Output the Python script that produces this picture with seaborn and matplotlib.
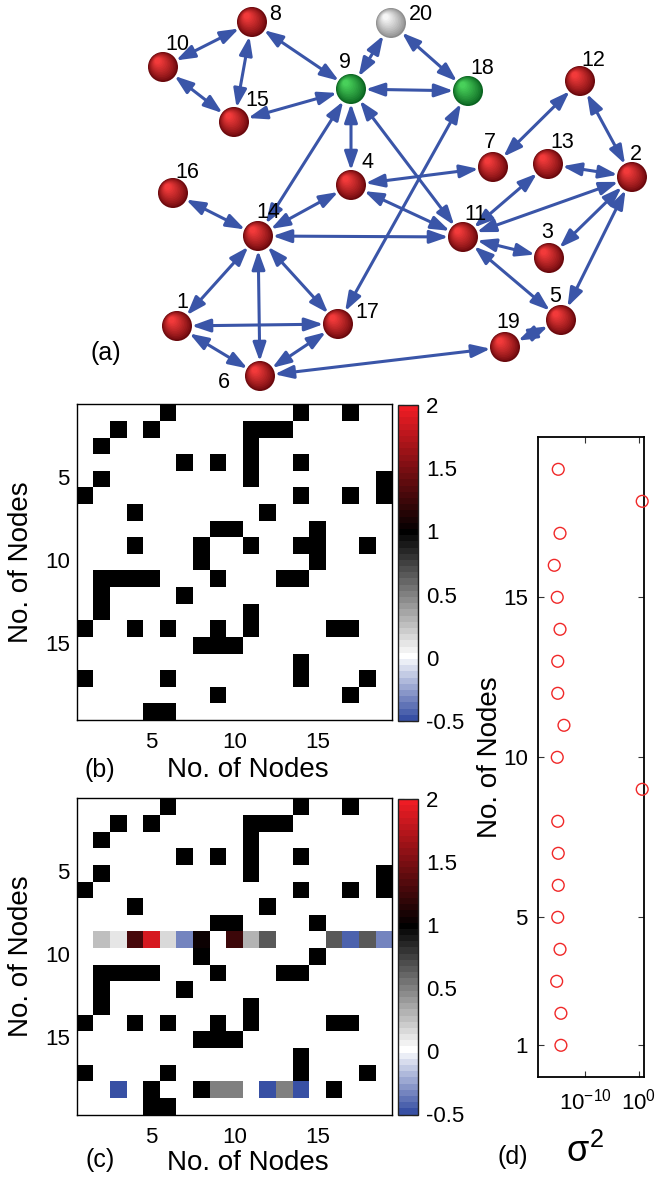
import numpy as np
import seaborn as sns
import matplotlib.pyplot as plt
from matplotlib.colors import LinearSegmentedColormap, to_rgb
from matplotlib.patches import Circle, FancyArrowPatch
from matplotlib.ticker import NullLocator

# --- network (a): node layout as drawn in the picture (pixel coords) ---
node_ids = list(range(1, 21))
node_x = [177, 632, 549, 351, 561, 260, 493, 252, 351, 163, 463, 580, 548, 258, 234, 173, 338, 468, 505, 391]
node_y = [326, 177, 258, 185, 320, 376, 167, 22, 89, 67, 237, 81, 164, 236, 122, 193, 324, 91, 347, 23]
node_kind = ['r'] * 8 + ['g'] + ['r'] * 8 + ['g', 'r', 'w']
edges = [(1, 6), (1, 14), (1, 17), (2, 3), (2, 5), (2, 11), (2, 12), (2, 13), (3, 11),
         (4, 7), (4, 9), (4, 11), (4, 14), (5, 11), (5, 19), (6, 14), (6, 17), (6, 19),
         (7, 12), (8, 9), (8, 10), (8, 15), (9, 11), (9, 14), (9, 15), (9, 18), (10, 15),
         (11, 13), (11, 14), (14, 16), (14, 17), (17, 18), (9, 20), (18, 20)]

# --- reconstruction (c): estimated rows for nodes 9 and 18 ---
row9_est = [0, 0.25, 0.09, 1.31, 1.88, 0.15, -0.34, 1.05, 0, 1.25, 0.31, 0.655, 0, 0, 0, 0.66, -0.42, 0.67, -0.34]
row18_est = [0, 0, -0.5, 0, 1, 0, 0, 1, 0.5, 0.5, 0, -0.5, 0.5, -0.5, 0, 1, 0, 0, 0]

# --- (d): variance per node ---
d_nodes = list(range(1, 20))
sigma2 = [2.5e-15, 2.5e-15, 4.0e-16, 1.7e-15, 6.3e-16, 7.9e-16, 7.9e-16, 6.3e-16, 4.6, 5.1e-16,
          9.3e-15, 6.3e-16, 6.3e-16, 1.7e-15, 5.1e-16, 1.4e-16, 1.7e-15, 4.6, 7.9e-16]

cbar_ticks = [-0.5, 0, 0.5, 1, 1.5, 2]
cbar_labels = ['-0.5', '0', '0.5', '1', '1.5', '2']

sns.set_theme(style='white')
plt.rcParams['font.family'] = ['Liberation Sans', 'DejaVu Sans']
plt.rcParams['axes.unicode_minus'] = False
plt.rcParams['mathtext.fontset'] = 'custom'
plt.rcParams['mathtext.rm'] = 'Liberation Sans'
plt.rcParams['mathtext.it'] = 'Liberation Sans'
for key in ['text.color', 'axes.labelcolor', 'xtick.color', 'ytick.color']:
    plt.rcParams[key] = 'black'

W, H = 656, 1180
fig = plt.figure(figsize=(W / 100, H / 100), dpi=100)


def box(l, t, r, b):
    return [l / W, 1 - b / H, (r - l) / W, (b - t) / H]


def ftext(x, y, s, **kw):
    fig.text(x / W, 1 - y / H, s, ha='center', va='center', **kw)


# ---------------- (a) network ----------------
ax_a = fig.add_axes(box(0, 0, W, 395))
ax_a.set_xlim(0, W)
ax_a.set_ylim(395, 0)
ax_a.axis('off')

edge_color = '#3a55a8'
for i, j in edges:
    arr = FancyArrowPatch((node_x[i - 1], node_y[i - 1]), (node_x[j - 1], node_y[j - 1]),
                          arrowstyle='<|-|>,head_length=0.8,head_width=0.28',
                          mutation_scale=14, lw=2.2, color=edge_color,
                          shrinkA=10.5, shrinkB=10.5, zorder=1)
    ax_a.add_patch(arr)

shades = {'r': ('#6a080c', '#f23a3a'), 'g': ('#0a6420', '#48d05a'), 'w': ('#8c8c8c', '#f6f6f6')}
rad = 15
for n, x, y, k in zip(node_ids, node_x, node_y, node_kind):
    dark, light = np.array(to_rgb(shades[k][0])), np.array(to_rgb(shades[k][1]))
    steps = 12
    for s in range(steps):
        t = s / (steps - 1)
        c = dark + (light - dark) * t ** 0.8
        ax_a.add_patch(Circle((x - 0.35 * rad * t, y - 0.4 * rad * t), rad * (1 - 0.8 * t),
                              color=c, lw=0, zorder=2 + s * 0.01))

label_offset = {1: (5, -24), 2: (4, -22), 3: (-2, -25), 4: (16, -22), 5: (-6, -24), 6: (-36, 6),
                7: (-3, -24), 8: (23, -7), 9: (-6, -26), 10: (14, -22), 11: (12, -22), 12: (13, -21),
                13: (14, -22), 14: (10, -23), 15: (23, -22), 16: (14, -20), 17: (29, -11),
                18: (14, -23), 19: (3, -25), 20: (30, -8)}
for n, x, y in zip(node_ids, node_x, node_y):
    dx, dy = label_offset[n]
    ax_a.text(x + dx, y + dy, str(n), fontsize=15.5, ha='center', va='center', zorder=5)

# ---------------- matrices (b) and (c) ----------------
n = 19
adj = np.zeros((n, n))
for i, j in edges:
    if i <= n and j <= n:
        adj[i - 1, j - 1] = 1
        adj[j - 1, i - 1] = 1
adj_est = adj.copy()
adj_est[8, :] = row9_est
adj_est[17, :] = row18_est

# 51 levels so that 0 -> pure white, 1 -> pure black
cmap = LinearSegmentedColormap.from_list(
    'bwkr', [(0, '#3850a4'), (0.2, 'white'), (0.6, 'black'), (1, '#ee1c24')], N=51)


def draw_matrix(mat, axbox, cbox):
    ax = fig.add_axes(box(*axbox))
    cax = fig.add_axes(box(*cbox))
    sns.heatmap(mat, cmap=cmap, vmin=-0.5, vmax=2, ax=ax, cbar_ax=cax,
                cbar_kws={'ticks': cbar_ticks})
    ax.set_xticks([4.5, 9.5, 14.5])
    ax.set_xticklabels(['5', '10', '15'], rotation=0)
    ax.set_yticks([4.5, 9.5, 14.5])
    ax.set_yticklabels(['5', '10', '15'], rotation=0)
    ax.tick_params(direction='in', length=4, width=0.8, bottom=True, top=True, left=True,
                   right=True, labelsize=16, color='#333333')
    ax.tick_params(axis='x', pad=9)
    ax.tick_params(axis='y', pad=5)
    for sp in ax.spines.values():
        sp.set_visible(True)
        sp.set_linewidth(1.0)
        sp.set_color('black')
    cb = ax.collections[0].colorbar
    cb.outline.set_linewidth(1.0)
    cb.outline.set_edgecolor('#222222')
    cb.set_ticklabels(cbar_labels)
    cax.tick_params(direction='in', length=4, width=0.8, right=True, left=True,
                    labelsize=16, pad=6, color='#333333')
    return ax


draw_matrix(adj, (76.7, 404.3, 392.3, 720), (397.5, 405, 417.5, 721))
draw_matrix(adj_est, (76.7, 798.3, 392.3, 1114.5), (397.5, 799, 417.5, 1114.5))

ftext(100, 770, '(b)', fontsize=18)
ftext(248, 770, 'No. of Nodes', fontsize=20)
ftext(100, 1160, '(c)', fontsize=18)
ftext(248, 1163, 'No. of Nodes', fontsize=20)
ftext(21, 562, 'No. of Nodes', fontsize=20, rotation=90)
ftext(21, 956, 'No. of Nodes', fontsize=20, rotation=90)
ftext(106, 353, '(a)', fontsize=18)

# ---------------- (d) variance ----------------
ax_d = fig.add_axes(box(537.5, 437.3, 644, 1077.3))
sns.scatterplot(x=sigma2, y=d_nodes, ax=ax_d, s=72, marker='o', facecolor='none',
                edgecolor='#f02828', linewidth=1.0, clip_on=False, zorder=3)
ax_d.set_xscale('log')
ax_d.set_xlim(1e-19, 1e1)
ax_d.set_ylim(0, 20)
ax_d.set_xticks([1e-10, 1])
ax_d.xaxis.set_minor_locator(NullLocator())
ax_d.set_yticks([1, 5, 10, 15])
ax_d.set_yticklabels(['1', '5', '10', '15'])
ax_d.tick_params(direction='in', length=4, width=0.8, bottom=True, top=True, left=True,
                 right=True, labelsize=16, color='#333333')
ax_d.tick_params(axis='x', pad=8)
ax_d.tick_params(axis='y', pad=7)
for sp in ax_d.spines.values():
    sp.set_linewidth(1.3)
    sp.set_color('black')
ftext(490, 757, 'No. of Nodes', fontsize=20, rotation=90)
ftext(513, 1157, '(d)', fontsize=18)
ftext(585, 1152, r'$\sigma^2$', fontsize=26)

fig.savefig('out.png', dpi=100)
